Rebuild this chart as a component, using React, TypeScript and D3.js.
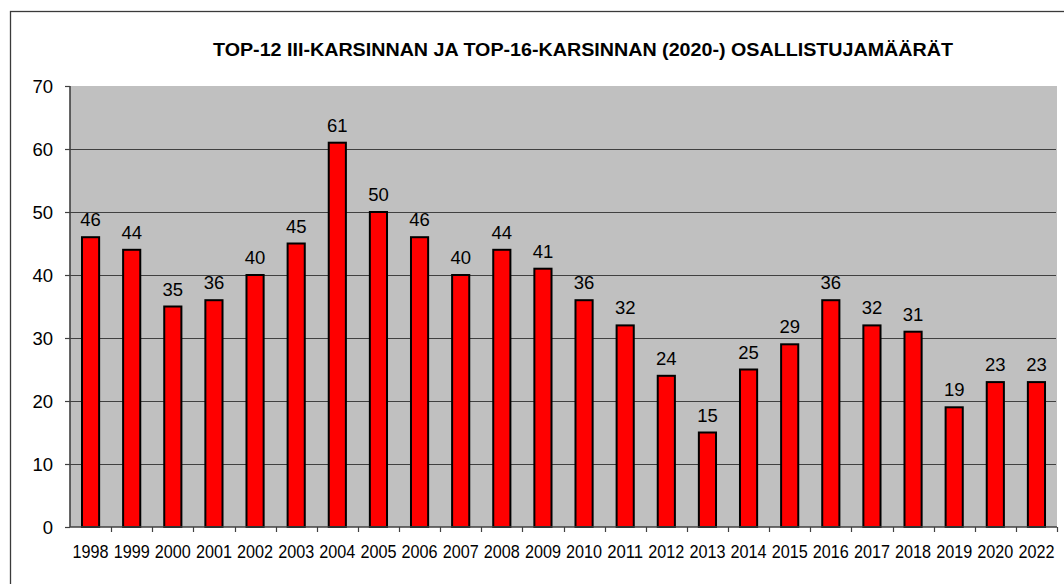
import { useEffect, useRef } from "react";
import * as d3 from "d3";

const WIDTH = 1064;
const HEIGHT = 584;
const PLOT = { left: 70, top: 86, right: 1057, bottom: 527 };

const years = [
  "1998", "1999", "2000", "2001", "2002", "2003", "2004", "2005",
  "2006", "2007", "2008", "2009", "2010", "2011", "2012", "2013",
  "2014", "2015", "2016", "2017", "2018", "2019", "2020", "2022",
];
const participants = [
  46, 44, 35, 36, 40, 45, 61, 50, 46, 40, 44, 41,
  36, 32, 24, 15, 25, 29, 36, 32, 31, 19, 23, 23,
];
const yTicks = [0, 10, 20, 30, 40, 50, 60, 70];
const TITLE = "TOP-12 III-KARSINNAN JA TOP-16-KARSINNAN (2020-) OSALLISTUJAMÄÄRÄT";

const FONT = "Arial, 'Liberation Sans', sans-serif";

export default function App() {
  const svgRef = useRef<SVGSVGElement | null>(null);

  useEffect(() => {
    if (!svgRef.current) return;
    const svg = d3.select(svgRef.current);
    svg.selectAll("*").remove();

    const x = d3
      .scaleBand()
      .domain(years)
      .range([PLOT.left, PLOT.right])
      .paddingInner(0.583)
      .paddingOuter(0.2915);

    const band = d3.scaleBand().domain(years).range([PLOT.left, PLOT.right]);

    const y = d3.scaleLinear().domain([0, 70]).range([PLOT.bottom, PLOT.top]);

    // outer chart border (right / bottom edges fall outside the picture)
    svg
      .append("rect")
      .attr("x", 10.5)
      .attr("y", 11.5)
      .attr("width", 1100)
      .attr("height", 600)
      .attr("fill", "#fff")
      .attr("stroke", "#3a3a3a")
      .attr("stroke-width", 1.3);

    // title
    svg
      .append("text")
      .attr("x", 213)
      .attr("y", 56)
      .attr("textLength", 740)
      .attr("lengthAdjust", "spacingAndGlyphs")
      .attr("font-family", FONT)
      .attr("font-weight", "bold")
      .attr("font-size", 18)
      .attr("fill", "#000")
      .text(TITLE);

    // plot background
    svg
      .append("rect")
      .attr("x", PLOT.left)
      .attr("y", PLOT.top)
      .attr("width", PLOT.right - PLOT.left)
      .attr("height", PLOT.bottom - PLOT.top)
      .attr("fill", "#c0c0c0");

    // gridlines
    svg
      .append("g")
      .selectAll("line")
      .data(yTicks.filter((t) => t > 0 && t < 70))
      .enter()
      .append("line")
      .attr("x1", PLOT.left)
      .attr("x2", PLOT.right - 1)
      .attr("y1", (d) => Math.round(y(d)) + 0.5)
      .attr("y2", (d) => Math.round(y(d)) + 0.5)
      .attr("stroke", "#404040")
      .attr("stroke-width", 1.2);

    // bars
    svg
      .append("g")
      .selectAll("rect")
      .data(participants)
      .enter()
      .append("rect")
      .attr("x", (_d, i) => x(years[i]) ?? 0)
      .attr("width", x.bandwidth())
      .attr("y", (d) => y(d))
      .attr("height", (d) => y(0) - y(d))
      .attr("fill", "#ff0000")
      .attr("stroke", "#000")
      .attr("stroke-width", 2);

    // value labels
    svg
      .append("g")
      .selectAll("text")
      .data(participants)
      .enter()
      .append("text")
      .attr("x", (_d, i) => (x(years[i]) ?? 0) + x.bandwidth() / 2)
      .attr("y", (d) => y(d) - 11)
      .attr("text-anchor", "middle")
      .attr("font-family", FONT)
      .attr("font-size", 18.5)
      .attr("fill", "#000")
      .text((d) => String(d));

    // y axis
    const yAxis = svg.append("g");
    yAxis
      .append("line")
      .attr("x1", PLOT.left)
      .attr("x2", PLOT.left)
      .attr("y1", PLOT.top)
      .attr("y2", PLOT.bottom)
      .attr("stroke", "#404040")
      .attr("stroke-width", 1.6);
    yAxis
      .selectAll("line.tick")
      .data(yTicks)
      .enter()
      .append("line")
      .attr("class", "tick")
      .attr("x1", PLOT.left - 5)
      .attr("x2", PLOT.left)
      .attr("y1", (d) => Math.round(y(d)) + 0.5)
      .attr("y2", (d) => Math.round(y(d)) + 0.5)
      .attr("stroke", "#404040")
      .attr("stroke-width", 1.2);
    yAxis
      .selectAll("text")
      .data(yTicks)
      .enter()
      .append("text")
      .attr("x", 53)
      .attr("y", (d) => y(d))
      .attr("dy", "0.36em")
      .attr("text-anchor", "end")
      .attr("font-family", FONT)
      .attr("font-size", 18.5)
      .attr("fill", "#000")
      .text((d) => String(d));

    // x axis
    const xAxis = svg.append("g");
    xAxis
      .append("line")
      .attr("x1", PLOT.left)
      .attr("x2", PLOT.right)
      .attr("y1", PLOT.bottom)
      .attr("y2", PLOT.bottom)
      .attr("stroke", "#404040")
      .attr("stroke-width", 1.6);
    const boundaries = years.map((yr) => band(yr) ?? 0).concat([PLOT.right]).slice(1);
    xAxis
      .selectAll("line.tick")
      .data(boundaries)
      .enter()
      .append("line")
      .attr("class", "tick")
      .attr("x1", (d) => Math.round(d) + 0.5)
      .attr("x2", (d) => Math.round(d) + 0.5)
      .attr("y1", PLOT.bottom)
      .attr("y2", PLOT.bottom + 5)
      .attr("stroke", "#404040")
      .attr("stroke-width", 1.2);
    xAxis
      .selectAll("text")
      .data(years)
      .enter()
      .append("text")
      .attr("x", (d) => (band(d) ?? 0) + band.bandwidth() / 2 - 18)
      .attr("y", 558)
      .attr("textLength", 36)
      .attr("lengthAdjust", "spacingAndGlyphs")
      .attr("font-family", FONT)
      .attr("font-size", 18.5)
      .attr("fill", "#000")
      .text((d) => d);
  }, []);

  return (
    <div style={{ position: "absolute", left: 0, top: 0 }}>
      <svg ref={svgRef} width={WIDTH} height={HEIGHT} style={{ display: "block" }} />
    </div>
  );
}
